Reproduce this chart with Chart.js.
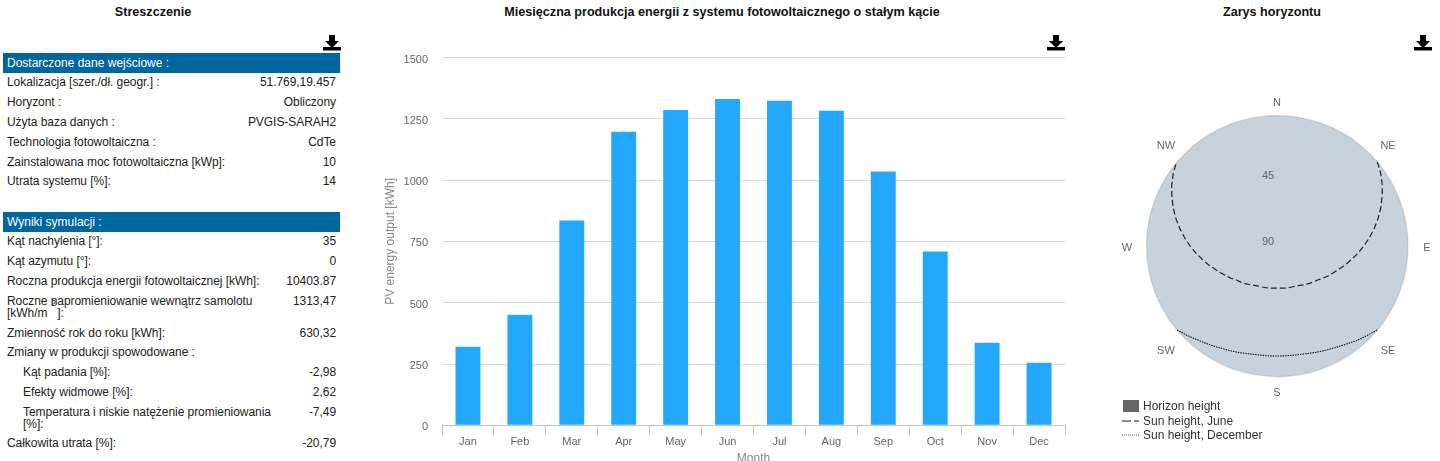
<!DOCTYPE html>
<html lang="pl">
<head>
<meta charset="utf-8">
<title>PVGIS</title>
<script src="https://cdn.jsdelivr.net/npm/chart.js@4"></script>
<style>
html, body { margin: 0; padding: 0; background: #fff; overflow: hidden; width: 1440px; height: 461px; }
body { position: relative; font-family: "Liberation Sans", Arial, sans-serif; font-size: 12px; color: #222; }
.title { position: absolute; top: 5px; font-weight: bold; font-size: 12.6px; text-align: center; line-height: 14px; color: #111; }
.icon { position: absolute; top: 34px; width: 18px; height: 17px; }
canvas { position: absolute; }
table { position: absolute; left: 3px; width: 337px; border-collapse: collapse; table-layout: fixed; line-height: 12px; }
th { background: #00669f; color: #fff; font-weight: normal; text-align: left; height: 20px; padding: 0 0 0 4px; }
td { padding: 3.4px 4px 4.4px; vertical-align: top; letter-spacing: -0.05px; }
td.val { text-align: right; white-space: nowrap; }
td.ind { padding-left: 20px; }
.sup { position: absolute; left: 51px; top: 299px; font-size: 9px; line-height: 9px; }
#legend { position: absolute; left: 1122px; top: 399px; font-size: 12px; color: #333; }
#legend div { position: relative; height: 14.5px; line-height: 14.5px; padding-left: 21px; }
#legend svg { position: absolute; left: 0; top: 0; }
</style>
</head>
<body>
<div class="title" style="left:3px;width:300px">Streszczenie</div>
<div class="title" style="left:372px;width:700px">Miesięczna produkcja energii z systemu fotowoltaicznego o stałym kącie</div>
<div class="title" style="left:1122px;width:300px">Zarys horyzontu</div>

<svg class="icon" style="left:323px" viewBox="0 0 18 17"><path d="M6 1h6v6h4l-7 7-7-7h4z" fill="#000"/><rect x="0" y="13" width="18" height="3.5" fill="#000"/></svg>
<svg class="icon" style="left:1047px" viewBox="0 0 18 17"><path d="M6 1h6v6h4l-7 7-7-7h4z" fill="#000"/><rect x="0" y="13" width="18" height="3.5" fill="#000"/></svg>
<svg class="icon" style="left:1414px" viewBox="0 0 18 17"><path d="M6 1h6v6h4l-7 7-7-7h4z" fill="#000"/><rect x="0" y="13" width="18" height="3.5" fill="#000"/></svg>

<table id="inputs" style="top:53px"></table>
<table id="results" style="top:212px"></table>
<span class="sup">2</span>

<canvas id="bars" width="700" height="440" style="left:370px;top:30px"></canvas>
<canvas id="polar" width="330" height="310" style="left:1112px;top:91px"></canvas>

<div id="legend">
  <div><svg width="18" height="14"><rect x="1" y="1" width="16" height="12" fill="#666"/></svg>Horizon height</div>
  <div><svg width="18" height="14"><line x1="0" y1="7" x2="17" y2="7" stroke="#666" stroke-width="1.5" stroke-dasharray="9 3"/></svg>Sun height, June</div>
  <div><svg width="18" height="14"><line x1="0" y1="7" x2="17" y2="7" stroke="#666" stroke-width="1" stroke-dasharray="1 1"/></svg>Sun height, December</div>
</div>

<script>
var months = ['Jan','Feb','Mar','Apr','May','Jun','Jul','Aug','Sep','Oct','Nov','Dec'];
var pvOutput = [320,451,835,1197,1286,1331,1324,1283,1035,709,337,255];

// azimuth in 5 degree steps, 0 is north
var azimuths = [0,5,10,15,20,25,30,35,40,45,50,55,60,65,70,75,80,85,90,95,100,105,110,115,
  120,125,130,135,140,145,150,155,160,165,170,175,180,185,190,195,200,205,210,215,220,225,230,235,
  240,245,250,255,260,265,270,275,280,285,290,295,300,305,310,315,320,325,330,335,340,345,350,355];
var horizonHeight = [0.3,0.3,0.3,0.3,0.2,0.2,0.2,0.1,0.1,0.1,0,0,0,0,0,0,0,0,0,0,0,0,0,0,
  0,0,0,0,0,0,0.1,0.1,0.1,0.1,0.2,0.2,0.2,0.3,0.3,0.3,0.3,0.3,0.3,0.3,0.3,0.3,0.3,0.3,
  0.3,0.3,0.3,0.3,0.3,0.3,0.3,0.3,0.3,0.3,0.3,0.3,0.3,0.3,0.3,0.3,0.3,0.3,0.3,0.3,0.3,0.3,0.3,0.3];
var sunJune = [null,null,null,null,null,null,null,null,null,null,
  0,3,6.5,10.3,14.2,18.2,22.3,26.4,30.3,34.1,37.8,41,44.2,46.9,49.2,51.4,53.6,54.9,56.2,57.5,58.8,59.6,60,60.3,60.6,60.9,
  61,60.9,60.6,60.3,60,59.6,58.8,57.5,56.2,54.9,53.6,51.4,49.2,46.9,44.2,41,37.8,34.1,30.3,26.4,22.3,18.2,14.2,10.3,6.5,3,0,
  null,null,null,null,null,null,null,null,null];
var sunDecember = [null,null,null,null,null,null,null,null,null,null,null,null,null,null,null,null,null,null,null,null,null,null,null,null,null,null,
  0.3,2.8,5,7.6,9.5,11,12.2,13.4,14,14.3,14.4,14.3,14,13.4,12.2,11,9.5,7.6,5.6,3,0.3,
  null,null,null,null,null,null,null,null,null,null,null,null,null,null,null,null,null,null,null,null,null,null,null,null,null];
var directions = ['N','NE','E','SE','S','SW','W','NW'];
var directionAzimuths = [0,45,90,135,180,225,270,315];
var radialTicks = [45,90];

var inputLabels = ['Lokalizacja [szer./dł. geogr.] :','Horyzont :','Użyta baza danych :','Technologia fotowoltaiczna :','Zainstalowana moc fotowoltaiczna [kWp]:','Utrata systemu [%]:'];
var inputValues = ['51.769,19.457','Obliczony','PVGIS-SARAH2','CdTe','10','14'];
var resultLabels = ['Kąt nachylenia [°]:','Kąt azymutu [°]:','Roczna produkcja energii fotowoltaicznej [kWh]:','Roczne napromieniowanie wewnątrz samolotu [kWh/m &nbsp;&nbsp;]:','Zmienność rok do roku [kWh]:','Zmiany w produkcji spowodowane :','Kąt padania [%]:','Efekty widmowe [%]:','Temperatura i niskie natężenie promieniowania [%]:','Całkowita utrata [%]:'];
var resultValues = ['35','0','10403.87','1313,47','630,32','','-2,98','2,62','-7,49','-20,79'];
var indented = [6,7,8];

function fillTable(id, heading, labels, values, indent, labelWidth){
  var html = '<colgroup><col style="width:' + labelWidth + 'px"><col style="width:' + (337 - labelWidth) + 'px"></colgroup><tr><th colspan="2">' + heading + '</th></tr>';
  for(var i = 0;i<labels.length;i++){
    var cls = indent.indexOf(i) >= 0 ? ' class="ind"' : '';
    html += '<tr><td' + cls + '>' + labels[i] + '</td><td class="val">' + values[i] + '</td></tr>';
  }
  document.getElementById(id).innerHTML = html;
}
fillTable('inputs','Dostarczone dane wejściowe :',inputLabels,inputValues,[],232);
fillTable('results','Wyniki symulacji :',resultLabels,resultValues,indented,275);

var font = '"Liberation Sans", Arial, sans-serif';
Chart.defaults.font.family = font;
Chart.defaults.font.size = 11;
Chart.defaults.color = '#666';
Chart.defaults.animation = false;

new Chart(document.getElementById('bars').getContext('2d'), {
  type: 'bar',
  data: {
    labels: months,
    datasets: [{ label: 'PV energy output', data: pvOutput, backgroundColor: '#24a8fe', barPercentage: 0.48, categoryPercentage: 1 }]
  },
  options: {
    responsive: false,
    layout: { padding: { top: 27.5, right: 5, left: 0, bottom: 0 } },
    plugins: { legend: { display: false }, tooltip: { enabled: false } },
    scales: {
      x: {
        afterFit: function(scale){ scale.height = 44.7; },
        border: { color: '#c4c4c4' },
        grid: { drawOnChartArea: false, tickLength: 10, tickColor: '#c4c4c4' },
        ticks: { padding: 0, maxRotation: 0 },
        title: { display: true, text: 'Month', color: '#888', font: { size: 12 }, padding: { top: 0, bottom: 4 } }
      },
      y: {
        min: 0, max: 1500,
        afterFit: function(scale){ scale.width = 72; },
        border: { display: false },
        grid: { color: '#d8d8d8', drawTicks: false },
        ticks: { stepSize: 250, padding: 14, labelOffset: 2, callback: function(v){ return '' + v; } },
        title: { display: true, text: 'PV energy output [kWh]', color: '#888', font: { size: 12 }, padding: { top: 13, bottom: 0 } }
      }
    }
  }
});

// compass label placement: distance from centre, then a pixel nudge
var directionDist = [143,150,150,150,147,150,150,150];
var directionNudgeX = [0,5,0,5,0,-5,0,-5];
var directionNudgeY = [0,6,2,-1,0,-1,2,6];

var polarLabels = {
  id: 'polarLabels',
  afterDraw: function(chart){
    var scale = chart.scales.r;
    var ctx = chart.ctx;
    ctx.save();
    ctx.font = '11px ' + font;
    ctx.fillStyle = '#666';
    ctx.textAlign = 'center';
    ctx.textBaseline = 'middle';
    for(var i = 0;i<directions.length;i++){
      var p = scale.getPointPosition(azimuths.indexOf(directionAzimuths[i]), directionDist[i]);
      ctx.fillText(directions[i], p.x + directionNudgeX[i], p.y + directionNudgeY[i]);
    }
    for(var j = 0;j<radialTicks.length;j++){
      var t = scale.getPointPositionForValue(0, radialTicks[j]);
      ctx.fillText(radialTicks[j], t.x - 9, t.y - 4.5);
    }
    ctx.restore();
  }
};

new Chart(document.getElementById('polar').getContext('2d'), {
  type: 'radar',
  data: {
    labels: azimuths,
    datasets: [
      { label: 'Sun height, June', data: sunJune, borderColor: '#222', borderWidth: 1.2, borderDash: [6,3], fill: false, pointRadius: 0, order: 1 },
      { label: 'Sun height, December', data: sunDecember, borderColor: '#111', borderWidth: 1.1, borderDash: [1.5,1], fill: false, pointRadius: 0, order: 2 },
      { label: 'Horizon height', data: horizonHeight, backgroundColor: '#c6d3dd', borderWidth: 1.5, fill: 'start', pointRadius: 0, order: 3,
        segment: { borderColor: function(ctx){
          var az = azimuths[ctx.p0DataIndex];
          return (az >= 40 && az < 175) ? '#8a8a8a' : '#c6d3dd';
        } } }
    ]
  },
  plugins: [polarLabels],
  options: {
    responsive: false,
    layout: { padding: 24 },
    plugins: { legend: { display: false }, tooltip: { enabled: false } },
    scales: {
      r: {
        min: 0, max: 90, reverse: true,
        grid: { display: false, circular: true },
        angleLines: { display: false },
        pointLabels: { display: false },
        ticks: { display: false, stepSize: 45 }
      }
    }
  }
});
</script>
</body>
</html>
